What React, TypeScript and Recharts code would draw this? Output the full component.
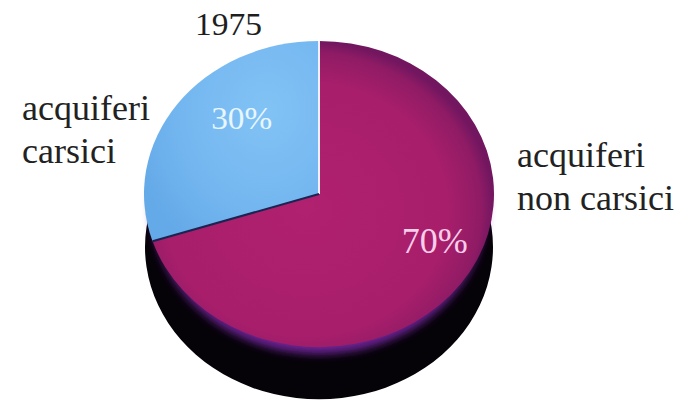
import React from 'react';
import { PieChart, Pie, Cell } from 'recharts';

// ---- data ----
const title = '1975';
const categories = ['acquiferi carsici', 'acquiferi non carsici'];
const values = [30, 70];
const percentLabels = ['30%', '70%'];
const nameLines = [
  ['acquiferi', 'carsici'],
  ['acquiferi', 'non carsici'],
];

// ---- layout / style ----
const W = 693;
const H = 407;
const CX = 319;
const CY = 194;
const R = 175;
const K = 0.875; // vertical squash of the tilted pie
const DEPTH = 53;

const fills = ['url(#blueGrad)', 'url(#magGrad)'];
const pctColors = ['#e8f7ff', '#f8cdea'];
const pctSizes = [31, 36];
const pctLengths = [61, 66];
const pctShift = [-12, 11];
const pctRadius = [0.66, 0.73];
const nameX = [22, 517];
const nameY = [
  [120, 163],
  [167, 210],
];

const data = categories.map((name, i) => ({ name, value: values[i] }));
const sideData = [{ name: 'side', value: values.reduce((a, b) => a + b, 0) }];

const serif = '"Liberation Serif", "Times New Roman", serif';

const renderLabel = (props: any) => {
  const { cx, cy, outerRadius, startAngle, endAngle, midAngle, index } = props;
  const RAD = Math.PI / 180;
  const pt = (ang: number, r: number) => [
    cx + r * Math.cos(ang * RAD),
    cy - r * Math.sin(ang * RAD) * K,
  ];
  const [lx, ly] = pt(midAngle + pctShift[index], outerRadius * pctRadius[index]);
  const parts: any[] = [];
  if (index === 0) {
    const [sx, sy] = pt(startAngle, outerRadius);
    const [ex, ey] = pt(endAngle, outerRadius);
    parts.push(
      <line key="w" x1={cx} y1={cy} x2={sx} y2={sy} stroke="#f4f0f8" strokeWidth={2} />,
      <line key="d" x1={cx} y1={cy} x2={ex} y2={ey} stroke="#1b2350" strokeWidth={2} />,
      <text
        key="t"
        x={195}
        y={35}
        fontFamily={serif}
        fontSize={31}
        textLength={67}
        lengthAdjust="spacingAndGlyphs"
        fill="#1e1e1e"
      >
        {title}
      </text>
    );
  }
  parts.push(
    <text
      key="p"
      x={lx}
      y={ly}
      textAnchor="middle"
      dominantBaseline="central"
      fontFamily={serif}
      fontSize={pctSizes[index]}
      textLength={pctLengths[index]}
      lengthAdjust="spacingAndGlyphs"
      fill={pctColors[index]}
    >
      {percentLabels[index]}
    </text>
  );
  nameLines[index].forEach((ln, j) => {
    parts.push(
      <text
        key={'n' + j}
        x={nameX[index]}
        y={nameY[index][j]}
        fontFamily={serif}
        fontSize={36}
        fill="#222"
      >
        {ln}
      </text>
    );
  });
  return <g>{parts}</g>;
};

const css = `
.pieTop .recharts-pie-sector { transform-origin: ${CX}px ${CY}px; transform: scaleY(${K}); }
.pieGlow .recharts-pie-sector { transform-origin: ${CX}px ${CY + 14}px; transform: scaleY(${K}); }
.pieSide .recharts-pie-sector { transform-origin: ${CX}px ${CY + DEPTH}px; transform: scaleY(${K}); }
`;

export default function App() {
  return (
    <div style={{ position: 'absolute', left: 0, top: 0, width: W, height: H, background: '#fff' }}>
      <style>{css}</style>
      <PieChart width={W} height={H} margin={{ top: 0, right: 0, bottom: 0, left: 0 }}>
        <defs>
          <radialGradient id="blueGrad" cx="0.7" cy="0.35" r="0.8">
            <stop offset="0" stopColor="#82c3f5" />
            <stop offset="0.6" stopColor="#74b7f0" />
            <stop offset="1" stopColor="#64a9e8" />
          </radialGradient>
          <radialGradient id="magGrad" cx="0.45" cy="0.55" r="0.55">
            <stop offset="0" stopColor="#b0216f" />
            <stop offset="0.75" stopColor="#a81e6b" />
            <stop offset="0.93" stopColor="#901b65" />
            <stop offset="1" stopColor="#721660" />
          </radialGradient>
          <filter id="glowBlur" x="-20%" y="-20%" width="140%" height="140%">
            <feGaussianBlur stdDeviation="5" />
          </filter>
        </defs>
        <Pie
          className="pieSide"
          data={sideData}
          dataKey="value"
          cx={CX}
          cy={CY + DEPTH}
          outerRadius={R - 1}
          startAngle={90}
          endAngle={450}
          stroke="none"
          isAnimationActive={false}
        >
          <Cell fill="#050208" />
        </Pie>
        <Pie
          className="pieGlow"
          data={sideData}
          dataKey="value"
          cx={CX}
          cy={CY + 14}
          outerRadius={R - 8}
          startAngle={90}
          endAngle={450}
          stroke="none"
          isAnimationActive={false}
        >
          <Cell fill="#6a2391" filter="url(#glowBlur)" />
        </Pie>
        <Pie
          className="pieTop"
          data={data}
          dataKey="value"
          nameKey="name"
          cx={CX}
          cy={CY}
          outerRadius={R}
          startAngle={90}
          endAngle={450}
          stroke="none"
          label={renderLabel}
          labelLine={false}
          isAnimationActive={false}
        >
          {data.map((d, i) => (
            <Cell key={d.name} fill={fills[i]} />
          ))}
        </Pie>
      </PieChart>
    </div>
  );
}
